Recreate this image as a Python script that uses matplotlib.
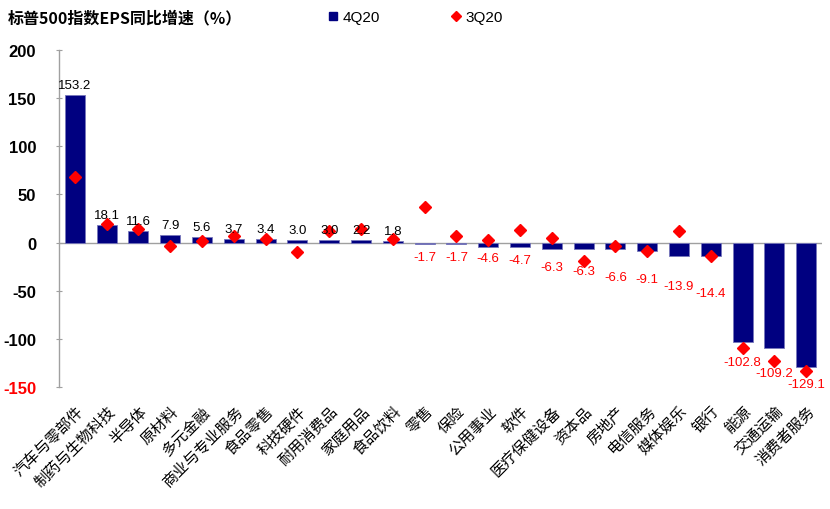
import numpy as np
import matplotlib
matplotlib.use('Agg')
import matplotlib.pyplot as plt
from matplotlib.lines import Line2D

plt.rcParams['font.family'] = ['Liberation Sans', 'Noto Sans CJK SC']

# ---------------------------------------------------------------------------
# Data
# ---------------------------------------------------------------------------
categories = ['汽车与零部件', '制药与生物科技', '半导体', '原材料', '多元金融',
              '商业与专业服务', '食品零售', '科技硬件', '耐用消费品', '家庭用品',
              '食品饮料', '零售', '保险', '公用事业', '软件', '医疗保健设备',
              '资本品', '房地产', '电信服务', '媒体娱乐', '银行', '能源',
              '交通运输', '消费者服务']
eps_4q20 = [153.2, 18.1, 11.6, 7.9, 5.6, 3.7, 3.4, 3.0, 3.0, 2.2, 1.8,
            -1.7, -1.7, -4.6, -4.7, -6.3, -6.3, -6.6, -9.1, -13.9, -14.4,
            -102.8, -109.2, -129.1]
eps_3q20 = [68.3, 19.5, 13.8, -4.0, 1.8, 6.9, 3.5, -9.3, 12.0, 14.5, 4.2,
            37.2, 6.4, 2.2, 13.1, 4.5, -19.3, -3.4, -8.3, 12.1, -13.8,
            -109.7, -123.4, -133.8]
yticks = [-150, -100, -50, 0, 50, 100, 150, 200]

NAVY = '#000080'
RED = '#ff0000'

# extra drop (pixels) of the negative value labels below the bar ends
neg_drop = [13, 13, 11, 13, 18, 22, 28, 28, 30, 37, 20, 25, 17]

# ---------------------------------------------------------------------------
# Figure
# ---------------------------------------------------------------------------
fig = plt.figure(figsize=(8.3, 5.1), dpi=100)
ax = fig.add_axes([59 / 830, 1 - 388 / 510, 763 / 830, 337 / 510])

x = np.arange(len(categories))
ax.bar(x, eps_4q20, width=0.63, color=NAVY, edgecolor='#7777bb',
       linewidth=0.6, zorder=2)
ax.plot(x, eps_3q20, linestyle='none', marker='D', markersize=6,
        color=RED, markeredgecolor=RED, zorder=3)

ax.axhline(0, color='#a0a0a0', linewidth=1.0, zorder=1)

# value labels
neg_i = 0
for xi, v in zip(x, eps_4q20):
    if v >= 0:
        ax.annotate(f'{v:.1f}', (xi, v), xytext=(0, 10 * 0.72),
                    textcoords='offset points', ha='center', va='center',
                    fontsize=9.5, color='black', zorder=4)
    else:
        ax.annotate(f'{v:.1f}', (xi, v),
                    xytext=(0, -neg_drop[neg_i] * 0.72),
                    textcoords='offset points', ha='center', va='center',
                    fontsize=9.5, color=RED, zorder=4)
        neg_i += 1

ax.set_xlim(-0.5, len(categories) - 0.5)
ax.set_ylim(-150, 200)
ax.set_yticks(yticks)
ax.set_yticklabels([str(t) for t in yticks], fontsize=12, fontweight='bold')
ax.get_yticklabels()[0].set_color(RED)
ax.tick_params(axis='y', direction='inout', length=5, color='#a0a0a0',
               pad=14)

ax.set_xticks(x)
ax.set_xticklabels(categories, rotation=45, ha='right', va='top',
                   rotation_mode='anchor', fontsize=11,
                   family=['Noto Sans CJK SC'])
ax.tick_params(axis='x', length=0, pad=11)

for s in ['top', 'right', 'bottom']:
    ax.spines[s].set_visible(False)
ax.spines['left'].set_color('#a0a0a0')
ax.spines['left'].set_linewidth(1.0)

# title
fig.text(8 / 830, 1 - 18 / 510, '标普500指数EPS同比增速（%）', fontsize=11.5,
         fontweight='bold', ha='left', va='center',
         family=['Noto Sans CJK SC'])

# legend
handles = [Line2D([], [], linestyle='none', marker='s', markersize=6,
                  color=NAVY),
           Line2D([], [], linestyle='none', marker='D', markersize=5,
                  color=RED)]
fig.legend(handles, ['4Q20', '3Q20'], loc='center left',
           bbox_to_anchor=(327 / 830, 1 - 18 / 510), ncol=2, frameon=False,
           fontsize=11, handlelength=0.8, handletextpad=0.2,
           columnspacing=4.6, borderaxespad=0, borderpad=0)

fig.savefig('out.png', dpi=100)
